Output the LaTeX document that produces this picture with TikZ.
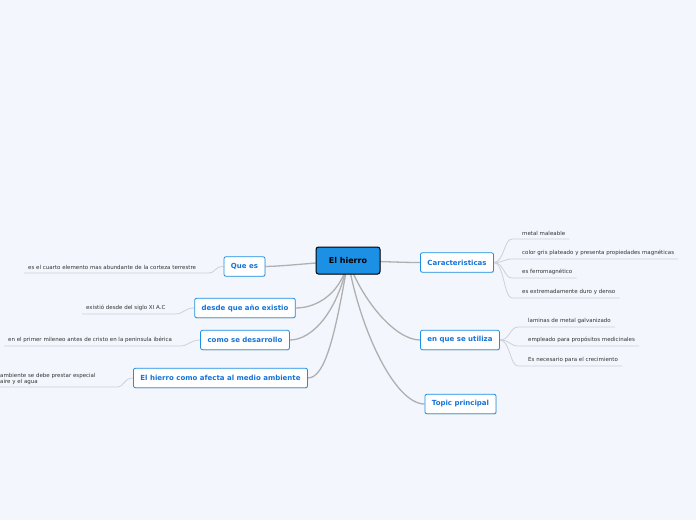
\documentclass[tikz,border=0pt]{standalone}
\usepackage{fontspec}
\setmainfont{DejaVu Sans}
\usepackage{xcolor}
\usetikzlibrary{shadows}
\definecolor{fondo}{RGB}{243,246,253}
\definecolor{azulraiz}{RGB}{27,144,228}
\definecolor{azultexto}{RGB}{22,115,215}
\definecolor{gristallo}{RGB}{176,176,176}
\definecolor{grishoja}{RGB}{205,208,215}
\pgfdeclarelayer{bg}
\pgfsetlayers{bg,main}
\tikzset{
    raiz/.style={draw=black, line width=1pt, fill=azulraiz, rounded corners=2.5pt,
        minimum width=64pt, minimum height=27pt, font=\fontsize{8}{9}\selectfont\bfseries,
        drop shadow={shadow xshift=0.6pt, shadow yshift=-0.8pt, opacity=0.25}},
    tema/.style={draw=azulraiz, line width=0.8pt, fill=white, rounded corners=2pt,
        minimum height=19.5pt, inner xsep=7pt, text=azultexto,
        font=\fontsize{7}{8}\selectfont\bfseries,
        drop shadow={shadow xshift=0.5pt, shadow yshift=-0.8pt, opacity=0.2}},
    hoja/.style={inner xsep=4pt, inner ysep=3pt, text=black!80,
        font=\fontsize{5.5}{6.5}\selectfont},
    tallo/.style={draw=gristallo, line width=1.3pt},
    rama/.style={draw=grishoja, line width=0.8pt}
}
\begin{document}
\begin{tikzpicture}[x=1pt, y=-1pt]
    \useasboundingbox (0,0) rectangle (696,520);
    \begin{pgfonlayer}{bg}
        \fill[fondo] (0,0) rectangle (696,520);
    \end{pgfonlayer}

    % nodo central
    \node[raiz] (hierro) at (348,260.5) {El hierro};

    % temas
    \node[tema] (quees) at (244.5,266.5) {Que es};
    \node[tema] (desde) at (245,308) {desde que año existio};
    \node[tema] (como) at (245,340) {como se desarrollo};
    \node[tema] (afecta) at (220.5,378) {El hierro como afecta al medio ambiente};
    \node[tema] (carac) at (457,262.5) {Caracteristicas};
    \node[tema] (uso) at (460,340) {en que se utiliza};
    \node[tema] (topic) at (460.5,404) {Topic principal};

    % hojas izquierda
    \node[hoja, anchor=south west] (h1) at (24,273) {es el cuarto elemento mas abundante de la corteza terrestre};
    \node[hoja, anchor=south west] (h2) at (82,314) {existió desde del siglo XI A.C};
    \node[hoja, anchor=south west] (h3) at (4,346) {en el primer mileneo antes de cristo en la peninsula ibérica};
    \node[hoja, anchor=south west, align=left, inner ysep=2pt] (h4) at (-4,387) {ambiente se debe prestar especial\\aire y el agua};

    % hojas derecha
    \node[hoja, anchor=south west] (c1) at (518,239) {metal maleable};
    \node[hoja, anchor=south west] (c2) at (518,259) {color gris plateado y presenta propiedades magnéticas};
    \node[hoja, anchor=south west] (c3) at (518,278) {es ferromagnético};
    \node[hoja, anchor=south west] (c4) at (518,298) {es extremadamente duro y denso};
    \node[hoja, anchor=south west] (u1) at (524,327) {laminas de metal galvanizado};
    \node[hoja, anchor=south west] (u2) at (524,346) {empleado para propósitos medicinales};
    \node[hoja, anchor=south west] (u3) at (524,366) {Es necesario para el crecimiento};

    \begin{pgfonlayer}{bg}
        % tallos
        \draw[tallo] (hierro.center) .. controls (300,264) and (285,266) .. (quees.east);
        \draw[tallo] (hierro.center) .. controls (342,292) and (318,308) .. (desde.east);
        \draw[tallo] (hierro.center) .. controls (338,312) and (312,340) .. (como.east);
        \draw[tallo] (hierro.center) .. controls (336,330) and (326,378) .. (afecta.east);
        \draw[tallo] (hierro.center) .. controls (395,262) and (405,262.5) .. (carac.west);
        \draw[tallo] (hierro.center) .. controls (362,300) and (395,340) .. (uso.west);
        \draw[tallo] (hierro.center) .. controls (360,330) and (395,404) .. (topic.west);

        % ramas
        \draw[rama] (quees.west) .. controls +(-10,0) and +(8,0) .. ([xshift=8pt]h1.south east) -- (h1.south west);
        \draw[rama] (desde.west) .. controls +(-10,0) and +(8,0) .. ([xshift=6pt]h2.south east) -- (h2.south west);
        \draw[rama] (como.west) .. controls +(-10,0) and +(8,0) .. ([xshift=4pt]h3.south east) -- (h3.south west);
        \draw[rama] (afecta.west) .. controls +(-10,0) and +(8,0) .. ([xshift=17pt]h4.south east) -- (h4.south west);
        \foreach \h in {c1,c2,c3,c4}
            \draw[rama] (carac.east) .. controls +(10,0) and +(-8,0) .. ([xshift=-6pt]\h.south west) -- (\h.south east);
        \foreach \h in {u1,u2,u3}
            \draw[rama] (uso.east) .. controls +(10,0) and +(-8,0) .. ([xshift=-6pt]\h.south west) -- (\h.south east);
    \end{pgfonlayer}
\end{tikzpicture}
\end{document}
